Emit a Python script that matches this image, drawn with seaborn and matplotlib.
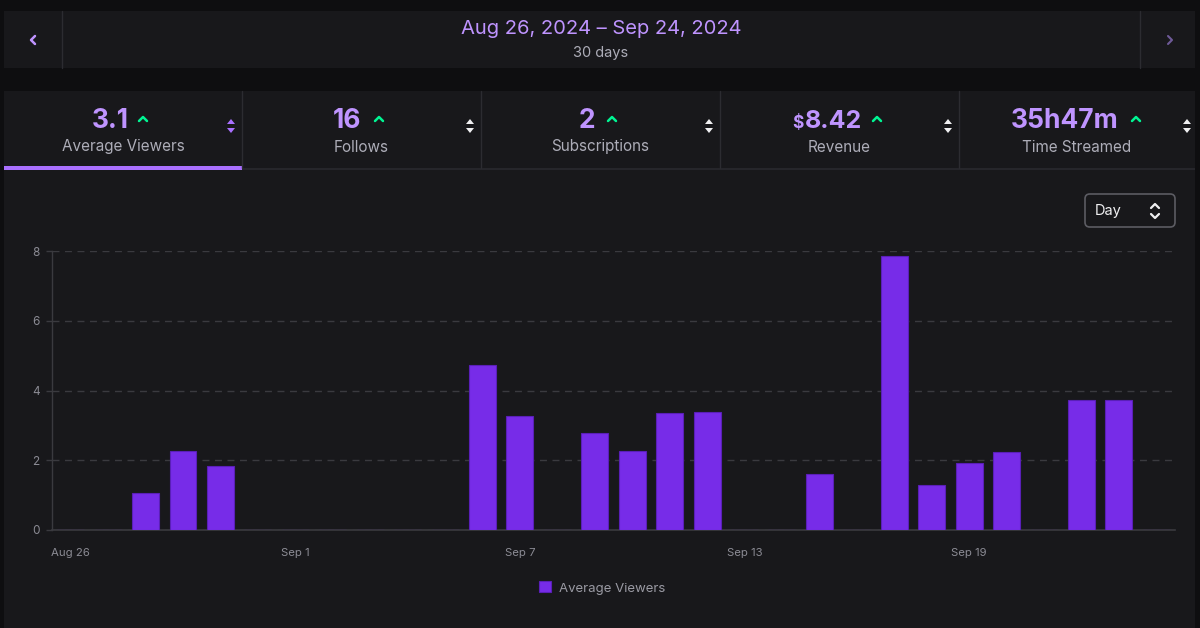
import matplotlib
matplotlib.use("Agg")
import matplotlib.pyplot as plt
from matplotlib.patches import Rectangle, FancyBboxPatch, Polygon
from matplotlib.lines import Line2D
import seaborn as sns
import pandas as pd

# ---------------- data ----------------
days = ["Aug 26", "Aug 27", "Aug 28", "Aug 29", "Aug 30", "Aug 31",
        "Sep 1", "Sep 2", "Sep 3", "Sep 4", "Sep 5", "Sep 6", "Sep 7",
        "Sep 8", "Sep 9", "Sep 10", "Sep 11", "Sep 12", "Sep 13", "Sep 14",
        "Sep 15", "Sep 16", "Sep 17", "Sep 18", "Sep 19", "Sep 20", "Sep 21",
        "Sep 22", "Sep 23", "Sep 24"]
avg_viewers = [0, 0, 1.05, 2.27, 1.84, 0,
               0, 0, 0, 0, 0, 4.74, 3.26,
               0, 2.77, 2.27, 3.36, 3.39, 0, 0,
               1.60, 0, 7.85, 1.29, 1.91, 2.25, 0,
               3.72, 3.72, 0]
tick_labels = ["Aug 26", "Sep 1", "Sep 7", "Sep 13", "Sep 19"]
y_ticks = [0, 2, 4, 6, 8]

stat_values = ["3.1", "16", "2", "8.42", "35h47m"]
stat_names = ["Average Viewers", "Follows", "Subscriptions", "Revenue", "Time Streamed"]
date_range = "Aug 26, 2024 \u2013 Sep 24, 2024"
range_len = "30 days"
series_name = "Average Viewers"

# ---------------- style ----------------
PAGE = "#0e0e10"
PANEL = "#18181b"
DIV = "#2c2c31"
PURPLE_TXT = "#bf94ff"
BAR = "#772ce8"
GREEN = "#00f593"
GRAY = "#adadb8"
TICK = "#8b8b94"
GRID = "#3a3a3f"

sns.set_theme(style="dark")
plt.rcParams["font.family"] = ["Inter", "DejaVu Sans"]

W, H = 1200, 628
fig = plt.figure(figsize=(12, 6.28), dpi=100, facecolor=PAGE)

def fx(x):
    return x / W

def fy(y):
    return 1 - y / H

def rect(x0, y0, x1, y1, color, z=-2):
    fig.patches.append(Rectangle((fx(x0), fy(y1)), (x1 - x0) / W, (y1 - y0) / H,
                                 transform=fig.transFigure, facecolor=color,
                                 edgecolor="none", zorder=z))

def vline(x, y0, y1, color=DIV, lw=1):
    fig.add_artist(Line2D([fx(x), fx(x)], [fy(y0), fy(y1)], color=color, lw=lw,
                          transform=fig.transFigure))

def poly(pts, color, closed=True, lw=1.6, fill=True):
    p = [(fx(a), fy(b)) for a, b in pts]
    if fill:
        fig.add_artist(Polygon(p, closed=closed, facecolor=color, edgecolor="none",
                               transform=fig.transFigure))
    else:
        xs, ys = zip(*p)
        fig.add_artist(Line2D(xs, ys, color=color, lw=lw, solid_capstyle="round",
                              solid_joinstyle="round", transform=fig.transFigure))

# top date panel
rect(4, 11, 1195, 68, PANEL)
vline(62, 11, 68)
vline(1140, 11, 68)
poly([(35, 36), (31, 40), (35, 44)], PURPLE_TXT, fill=False, lw=1.8)
poly([(1168, 36), (1172, 40), (1168, 44)], "#6e5a99", fill=False, lw=1.5)
fig.text(fx(601), fy(28.5), date_range, color=PURPLE_TXT, fontsize=14.5,
         ha="center", va="center")
fig.text(fx(601), fy(52.5), range_len, color=GRAY, fontsize=10.5,
         ha="center", va="center")

# main panel
rect(4, 91, 1195, 628, PANEL)
rect(4, 168, 1195, 170, "#26262b", z=-1)
rect(4, 166, 242, 170, "#a970ff", z=-1)
for xd in [242, 481, 720, 959]:
    vline(xd, 91, 168)

num_x = [110, 347.5, 805, 805, 1065]
num_x[2] = 587
num_ha = ["center", "center", "center", "left", "center"]
num_fs = [19, 19, 19, 18, 19]
caret_x = [143, 379, 612, 877, 1136]
arrows_x = [231, 470, 709, 948, 1187]
name_x = [123, 361.5, 600.5, 839.5, 1077]
for i in range(5):
    fig.text(fx(num_x[i]), fy(121), stat_values[i], color=PURPLE_TXT,
             fontsize=num_fs[i], fontweight="bold", ha=num_ha[i], va="center")
    cx = caret_x[i]
    poly([(cx - 4, 121), (cx, 117), (cx + 4, 121)], GREEN, fill=False, lw=1.8)
    fig.text(fx(name_x[i]), fy(147), stat_names[i], color=GRAY, fontsize=11,
             ha="center", va="center")
    ax_ = arrows_x[i]
    col = "#a970ff" if i == 0 else "#efeff1"
    poly([(ax_ - 4, 124), (ax_ + 4, 124), (ax_, 119)], col)
    poly([(ax_ - 4, 128), (ax_ + 4, 128), (ax_, 133)], col)
fig.text(fx(804), fy(124), "$", color=PURPLE_TXT, fontsize=12.5,
         fontweight="bold", ha="right", va="center")

# Day selector
fig.patches.append(FancyBboxPatch((fx(1085), fy(227)), 90 / W, 33 / H,
                                  boxstyle="round,pad=0,rounding_size=0.004",
                                  mutation_aspect=W / H,
                                  transform=fig.transFigure, facecolor=PANEL,
                                  edgecolor="#5c5c63", lw=1.2))
fig.text(fx(1095), fy(211), "Day", color="#efeff1", fontsize=10.5,
         ha="left", va="center")
poly([(1151, 208), (1155, 204), (1159, 208)], "#efeff1", fill=False, lw=1.6)
poly([(1151, 214), (1155, 218), (1159, 214)], "#efeff1", fill=False, lw=1.6)

# ---------------- chart ----------------
df = pd.DataFrame({"day": days, "value": avg_viewers})
ax = fig.add_axes([fx(52), fy(530), (1175 - 52) / W, (530 - 251) / H])
ax.set_zorder(5)
ax.set_facecolor(PANEL)
sns.barplot(data=df, x="day", y="value", order=days, color=BAR, width=0.72,
            saturation=1, edgecolor="#5a1fb8", linewidth=0.8, label=series_name,
            ax=ax, zorder=3)
ax.set_xlim(-0.5, len(days) - 0.5)
ax.set_ylim(0, 8)
ax.set_yticks(y_ticks)
ax.set_yticklabels([str(t) for t in y_ticks])
pos = [days.index(t) for t in tick_labels]
ax.set_xticks(pos)
ax.set_xticklabels(tick_labels)
ax.set_xlabel("")
ax.set_ylabel("")
ax.grid(False)
ax.yaxis.grid(True, linestyle=(0, (5, 4)), color=GRID, lw=1, zorder=0)
ax.set_axisbelow(True)
ax.tick_params(axis="x", length=0, pad=13, labelsize=8.2, labelcolor=TICK)
ax.tick_params(axis="y", length=4, color=GRID, width=1, pad=5, labelsize=8.5,
               labelcolor=TICK, left=True)
for s in ["top", "right"]:
    ax.spines[s].set_visible(False)
ax.spines["left"].set_color(GRID)
ax.spines["bottom"].set_color(GRID)
ax.spines["left"].set_linewidth(1)
ax.spines["bottom"].set_linewidth(1.2)

leg = ax.legend(loc="center", bbox_to_anchor=(fx(602), fy(588)),
                bbox_transform=fig.transFigure, frameon=False,
                handlelength=0.9, handleheight=0.9, handletextpad=0.6,
                fontsize=9.5)
for t in leg.get_texts():
    t.set_color("#9a9aa3")

fig.savefig("out.png", dpi=100, facecolor=PAGE)
